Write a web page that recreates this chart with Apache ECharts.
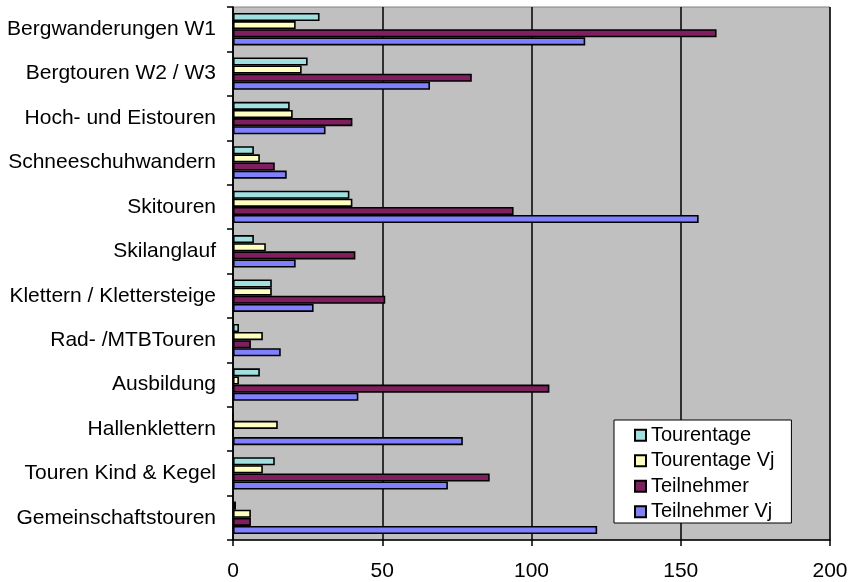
<!DOCTYPE html>
<html>
<head>
<meta charset="utf-8">
<script src="https://cdn.jsdelivr.net/npm/echarts@6/dist/echarts.min.js"></script>
<style>
html,body{margin:0;padding:0;background:#fff;}
#chart{width:860px;height:582px;}
</style>
</head>
<body>
<div id="chart"></div>
<script>
const categories = ["Bergwanderungen W1","Bergtouren W2 / W3","Hoch- und Eistouren","Schneeschuhwandern","Skitouren","Skilanglauf","Klettern / Klettersteige","Rad- /MTBTouren","Ausbildung","Hallenklettern","Touren Kind & Kegel","Gemeinschaftstouren"];
const seriesNames = ["Tourentage","Tourentage Vj","Teilnehmer","Teilnehmer Vj"];
const tourentage   = [29, 25, 19, 7, 39, 7, 13, 2, 9, 0, 14, 1];
const tourentageVj = [21, 23, 20, 9, 40, 11, 13, 10, 2, 15, 10, 6];
const teilnehmer   = [162, 80, 40, 14, 94, 41, 51, 6, 106, 0, 86, 6];
const teilnehmerVj = [118, 66, 31, 18, 156, 21, 27, 16, 42, 77, 72, 122];
const xTicks = [0, 50, 100, 150, 200];

const colors = ["#A0E0E0", "#FFFFC0", "#7F1F5F", "#8080FF"];
const values = [tourentage, tourentageVj, teilnehmer, teilnehmerVj];
const font = "'Liberation Sans', Arial, sans-serif";

const chart = echarts.init(document.getElementById('chart'), null, {renderer: 'canvas'});
chart.setOption({
  animation: false,
  textStyle: {fontFamily: font},
  grid: {left: 233, right: 30, top: 7, bottom: 40, show: true, backgroundColor: '#C0C0C0', borderColor: '#808080', borderWidth: 1},
  legend: {
    orient: 'vertical', left: 614, top: 420,
    backgroundColor: '#fff', borderColor: '#000', borderWidth: 1,
    padding: [5, 17, 1, 20], itemWidth: 11, itemHeight: 11, itemGap: 5,
    icon: 'rect',
    textStyle: {fontSize: 20, lineHeight: 20.5, color: '#000', fontFamily: font},
    data: seriesNames
  },
  xAxis: {
    type: 'value', min: xTicks[0], max: xTicks[xTicks.length - 1], interval: xTicks[1] - xTicks[0],
    axisLine: {show: true, lineStyle: {color: '#000', width: 1.5}},
    axisTick: {show: true, length: 6, lineStyle: {color: '#000', width: 1.5}},
    splitLine: {show: true, lineStyle: {color: '#000', width: 1.5}},
    axisLabel: {fontSize: 21, color: '#000', margin: 21, fontFamily: font}
  },
  yAxis: {
    type: 'category', inverse: true, data: categories,
    axisLine: {show: true, lineStyle: {color: '#000', width: 1.5}},
    axisTick: {show: true, length: 6, lineStyle: {color: '#000', width: 1.5}},
    axisLabel: {fontSize: 21, color: '#000', margin: 17, fontFamily: font}
  },
  series: seriesNames.map((n, i) => ({
    name: n, type: 'bar', data: values[i],
    barGap: '0%', barCategoryGap: '27%',
    itemStyle: {color: colors[i], borderColor: '#000', borderWidth: 1.6}
  }))
});
</script>
</body>
</html>
